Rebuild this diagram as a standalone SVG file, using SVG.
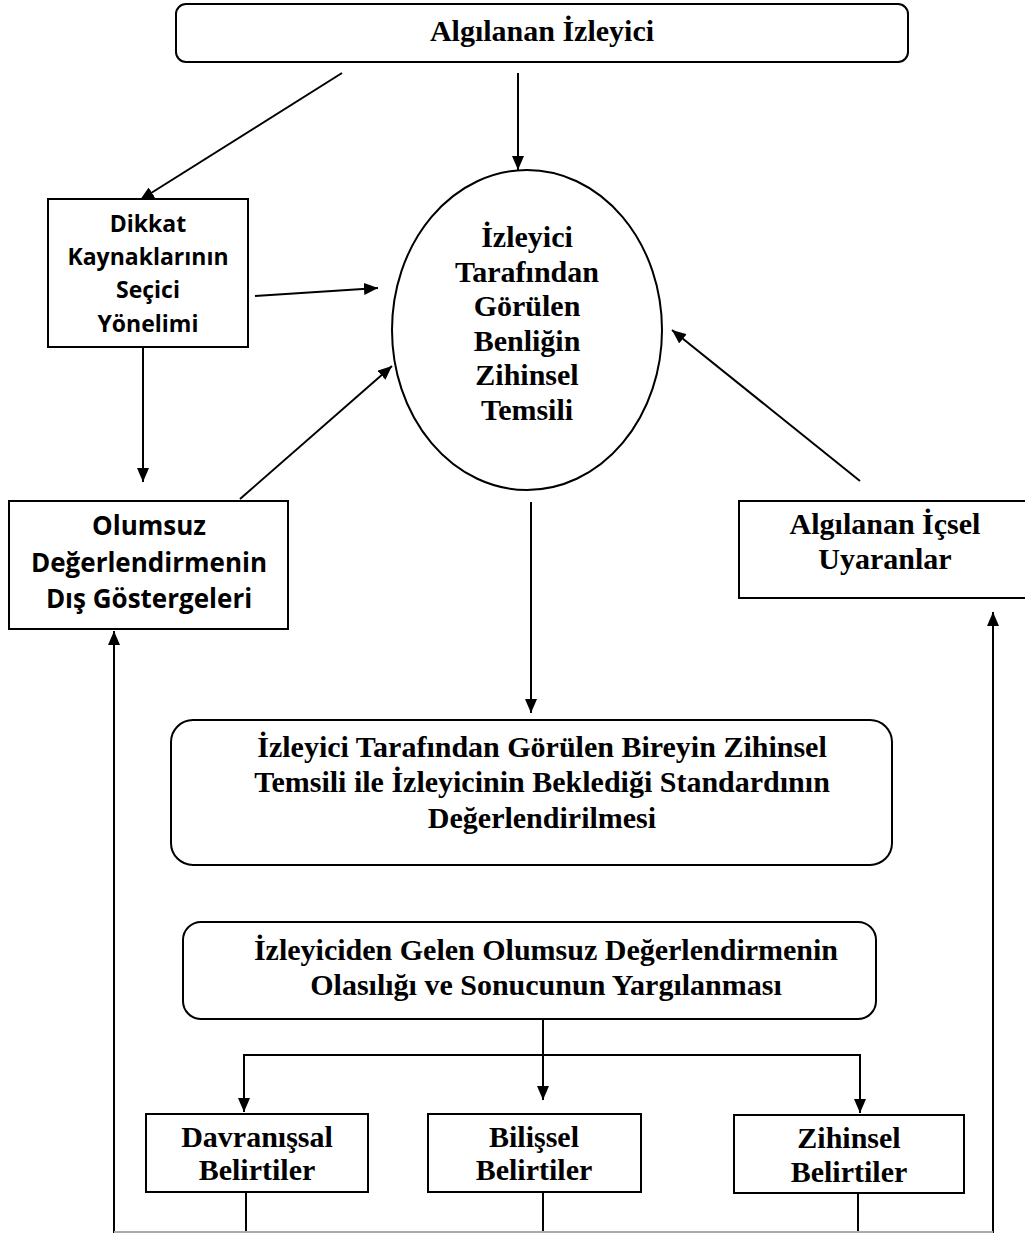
<svg xmlns="http://www.w3.org/2000/svg" width="1025" height="1233" viewBox="0 0 1025 1233">
<style>
.box{fill:#fff;stroke:#000;stroke-width:2}
.ser{font-family:"Liberation Serif","Times New Roman",serif;font-weight:bold;font-size:30px;fill:#000;text-anchor:middle}
.san{font-family:"Open Sans","Liberation Sans",sans-serif;font-weight:bold;fill:#000;text-anchor:middle}
.ln{stroke:#000;stroke-width:2;fill:none}
.arr{stroke:#000;stroke-width:2;fill:none;marker-end:url(#ah)}
</style>
<defs>
<marker id="ah" markerUnits="userSpaceOnUse" markerWidth="15" markerHeight="12" refX="14" refY="6" orient="auto">
<path d="M0,0 L14,6 L0,12 z" fill="#000"/>
</marker>
</defs>
<rect width="1025" height="1233" fill="#fff"/>
<g id="connectors">
<line class="arr" x1="342" y1="73" x2="140" y2="200"/>
<line class="arr" x1="518" y1="73" x2="518" y2="170"/>
<line class="arr" x1="255" y1="296" x2="378" y2="288"/>
<line class="arr" x1="143" y1="347" x2="143" y2="482"/>
<line class="arr" x1="240" y1="499" x2="392" y2="366"/>
<line class="arr" x1="860" y1="481" x2="672" y2="330"/>
<line class="arr" x1="531" y1="502" x2="531" y2="713"/>
<line class="arr" x1="543" y1="1019" x2="543" y2="1100"/>
<polyline class="ln" points="244,1100 244,1055 860,1055 860,1100"/>
<line class="arr" x1="244" y1="1060" x2="244" y2="1112"/>
<line class="arr" x1="860" y1="1060" x2="860" y2="1113"/>
<line class="ln" x1="246" y1="1192" x2="246" y2="1233" stroke-width="1.5"/>
<line class="ln" x1="543" y1="1192" x2="543" y2="1233" stroke-width="1.5"/>
<line class="ln" x1="858" y1="1193" x2="858" y2="1233" stroke-width="1.5"/>
<line class="arr" x1="114" y1="1233" x2="114" y2="631"/>
<line class="arr" x1="993" y1="1233" x2="993" y2="612"/>
<line x1="114" y1="1232" x2="993" y2="1232" stroke="#aaa" stroke-width="2"/>
</g>
<g id="n-izleyici">
<rect class="box" x="176" y="4" width="732" height="58" rx="10"/>
<text class="ser" x="542" y="41">Algılanan İzleyici</text>
</g>
<g id="n-dikkat">
<rect class="box" x="48" y="199" width="200" height="148"/>
<text class="san" font-size="23" x="148" y="232">Dikkat</text>
<text class="san" font-size="23" x="148" y="265">Kaynaklarının</text>
<text class="san" font-size="23" x="148" y="298">Seçici</text>
<text class="san" font-size="23" x="148" y="332">Yönelimi</text>
</g>
<g id="n-temsil">
<ellipse class="box" cx="527" cy="330" rx="135" ry="160"/>
<text class="ser" x="527" y="247">İzleyici</text>
<text class="ser" x="527" y="282">Tarafından</text>
<text class="ser" x="527" y="316">Görülen</text>
<text class="ser" x="527" y="351">Benliğin</text>
<text class="ser" x="527" y="385">Zihinsel</text>
<text class="ser" x="527" y="420">Temsili</text>
</g>
<g id="n-olumsuz">
<rect class="box" x="9" y="501" width="279" height="128"/>
<text class="san" font-size="26" x="149" y="535">Olumsuz</text>
<text class="san" font-size="26" x="149" y="572">Değerlendirmenin</text>
<text class="san" font-size="26" x="149" y="608">Dış Göstergeleri</text>
</g>
<g id="n-icsel">
<rect class="box" x="739" y="501" width="300" height="97"/>
<text class="ser" x="885" y="534">Algılanan İçsel</text>
<text class="ser" x="885" y="569">Uyaranlar</text>
</g>
<g id="n-standart">
<rect class="box" x="171" y="720" width="721" height="145" rx="22"/>
<text class="ser" font-size="31" x="542" y="757">İzleyici Tarafından Görülen Bireyin Zihinsel</text>
<text class="ser" font-size="31" x="542" y="792">Temsili ile İzleyicinin Beklediği Standardının</text>
<text class="ser" font-size="31" x="542" y="828">Değerlendirilmesi</text>
</g>
<g id="n-yargi">
<rect class="box" x="183" y="922" width="693" height="97" rx="18"/>
<text class="ser" x="546" y="960">İzleyiciden Gelen Olumsuz Değerlendirmenin</text>
<text class="ser" x="546" y="995">Olasılığı ve Sonucunun Yargılanması</text>
</g>
<g id="n-davranissal">
<rect class="box" x="146" y="1114" width="222" height="78"/>
<text class="ser" x="257" y="1147">Davranışsal</text>
<text class="ser" x="257" y="1180">Belirtiler</text>
</g>
<g id="n-bilissel">
<rect class="box" x="428" y="1114" width="213" height="78"/>
<text class="ser" x="534" y="1147">Bilişsel</text>
<text class="ser" x="534" y="1180">Belirtiler</text>
</g>
<g id="n-zihinsel">
<rect class="box" x="734" y="1115" width="230" height="78"/>
<text class="ser" x="849" y="1148">Zihinsel</text>
<text class="ser" x="849" y="1182">Belirtiler</text>
</g>
</svg>
